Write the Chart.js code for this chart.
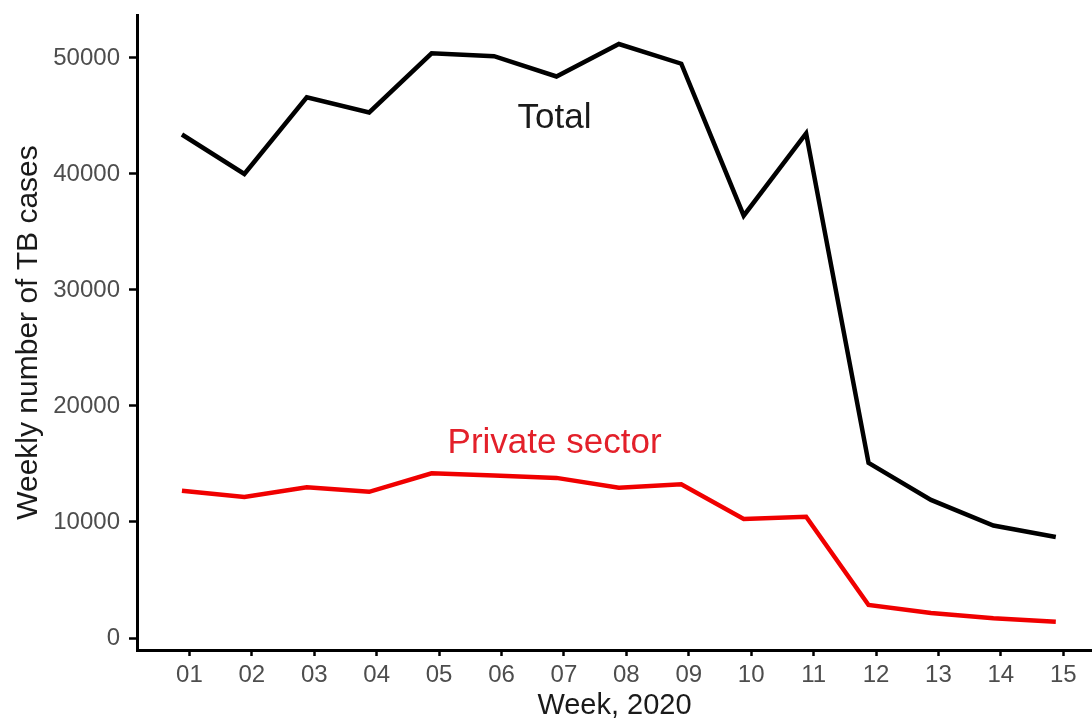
<!DOCTYPE html>
<html>
<head>
<meta charset="utf-8">
<script src="https://cdn.jsdelivr.net/npm/chart.js@4"></script>
<style>
	html, body { margin: 0; padding: 0; background: #ffffff; }
	#chart-box { width: 1092px; height: 723px; }
</style>
</head>
<body>
<div id="chart-box"><canvas id="tb-chart"></canvas></div>
<script>
// weekly TB notifications, 2020
var weekNumbers = [1, 2, 3, 4, 5, 6, 7, 8, 9, 10, 11, 12, 13, 14, 15];
var weekLabels = ["01", "02", "03", "04", "05", "06", "07", "08", "09", "10", "11", "12", "13", "14", "15"];
var totalCases = [43400, 40000, 46600, 45300, 50400, 50150, 48400, 51200, 49500, 36400, 43500, 15100, 11900, 9700, 8700];
var privateCases = [12700, 12150, 13000, 12600, 14200, 14000, 13800, 12950, 13250, 10250, 10450, 2850, 2150, 1700, 1400];
var yTickValues = [0, 10000, 20000, 30000, 40000, 50000];

// in-plot labels, anchored in data units (x = week, y = cases)
var noteTexts = ["Total", "Private sector"];
var noteWeeks = [6.97, 6.97];
var noteCases = [43950, 15950];

// tick marks sit slightly right of the weekly points
var tickShift = 0.12;

var axisFont = "'Liberation Sans', Arial, sans-serif";

function toPoints(values) {
	var points = [];
	for(let i = 0; i < values.length; i++)
		points.push({x: weekNumbers[i], y: values[i]});
	return points;
}

var noteColors = ["#1a1a1a", "#e3202a"];

var notesPlugin = {
	id: "notes",
	afterDatasetsDraw: function(chart) {
		var ctx = chart.ctx;
		ctx.save();
		ctx.font = "35px " + axisFont;
		ctx.textAlign = "center";
		ctx.textBaseline = "alphabetic";
		for(let i = 0; i < noteTexts.length; i++) {
			ctx.fillStyle = noteColors[i];
			ctx.fillText(noteTexts[i], chart.scales.x.getPixelForValue(noteWeeks[i]), chart.scales.y.getPixelForValue(noteCases[i]));
		}
		ctx.restore();
	}
};

window.onload = function() {
	window.tbChart = new Chart(document.getElementById("tb-chart"), {
		type: "line",
		data: {
			datasets: [{
				label: "Total",
				data: toPoints(totalCases),
				borderColor: "#000000",
				borderWidth: 4.5,
				pointRadius: 0,
				tension: 0,
			}, {
				label: "Private sector",
				data: toPoints(privateCases),
				borderColor: "#f00000",
				borderWidth: 4.5,
				pointRadius: 0,
				tension: 0,
			}]
		},
		options: {
			responsive: true,
			maintainAspectRatio: false,
			animation: false,
			layout: {
				padding: {top: 15, right: 0, bottom: 0, left: 0}
			},
			plugins: {
				legend: { display: false },
				tooltip: { enabled: false }
			},
			scales: {
				x: {
					type: "linear",
					min: 0.28,
					max: 15.58,
					afterBuildTicks: function(scale) {
						scale.ticks = weekNumbers.map(function(w) { return {value: w + tickShift}; });
					},
					afterFit: function(scale) {
						scale.height = 73;
						scale.paddingLeft = 0;
						scale.paddingRight = 0;
					},
					ticks: {
						autoSkip: false,
						maxRotation: 0,
						padding: 5,
						color: "#4d4d4d",
						font: { family: axisFont, size: 24 },
						callback: function(value, index) { return weekLabels[index]; }
					},
					grid: {
						drawOnChartArea: false,
						tickLength: 6,
						tickWidth: 2.5,
						tickColor: "#000000"
					},
					border: { display: true, color: "#000000", width: 3 },
					title: {
						display: true,
						text: "Week, 2020",
						color: "#1a1a1a",
						font: { family: axisFont, size: 29 },
						padding: {top: 0, bottom: 0}
					}
				},
				y: {
					type: "linear",
					min: -1034,
					max: 53700,
					afterBuildTicks: function(scale) {
						scale.ticks = yTickValues.map(function(v) { return {value: v}; });
					},
					afterFit: function(scale) {
						scale.width = 137;
						scale.paddingTop = 0;
						scale.paddingBottom = 0;
					},
					ticks: {
						padding: 9,
						color: "#4d4d4d",
						font: { family: axisFont, size: 24 },
						callback: function(value) { return String(value); }
					},
					grid: {
						drawOnChartArea: false,
						tickLength: 8,
						tickWidth: 2.5,
						tickColor: "#000000"
					},
					border: { display: true, color: "#000000", width: 3 },
					title: {
						display: true,
						text: "Weekly number of TB cases",
						color: "#1a1a1a",
						font: { family: axisFont, size: 30 },
						padding: {top: 11, bottom: 0}
					}
				}
			}
		},
		plugins: [notesPlugin]
	});
};
</script>
</body>
</html>
